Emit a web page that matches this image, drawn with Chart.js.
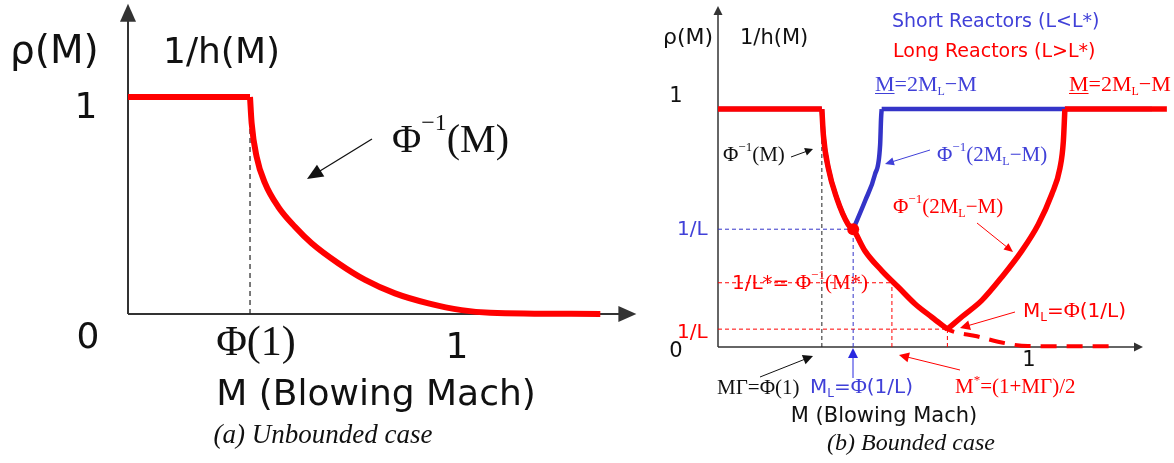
<!DOCTYPE html>
<html>
<head>
<meta charset="utf-8">
<script src="https://cdn.jsdelivr.net/npm/chart.js@4.4.0/dist/chart.umd.min.js"></script>
<style>
  body { margin: 0; background: #fff; }
  #wrap { position: relative; width: 1174px; height: 463px; overflow: hidden; }
  canvas { position: absolute; top: 0; }
</style>
</head>
<body>
<div id="wrap">
  <canvas id="unbounded" width="650" height="463" style="left:0"></canvas>
  <canvas id="bounded" width="524" height="463" style="left:650px"></canvas>
</div>
<script>
// (a) unbounded: rho = 1 up to Phi(1), then Phi^-1(M) decaying to 0
const unbM   = [0, 0.372, 0.377, 0.392, 0.418, 0.458, 0.509, 0.560, 0.641, 0.723, 0.814, 0.916, 1.017, 1.104, 1.44];
const unbRho = [1, 1, 0.879, 0.725, 0.602, 0.494, 0.402, 0.326, 0.234, 0.157, 0.095, 0.049, 0.018, 0.006, 0];
const phiOfOne = 0.372;

// (b) bounded: long reactors (red), short reactors (blue), unbounded tail (dashed)
const longM   = [0, 0.335, 0.340, 0.356, 0.383, 0.420, 0.436, 0.474, 0.528, 0.582, 0.635, 0.689, 0.74,
                 0.786, 0.851, 0.915, 0.980, 1.033, 1.076, 1.103, 1.114, 1.119, 1.448];
const longRho = [1, 1, 0.890, 0.751, 0.626, 0.515, 0.495, 0.404, 0.321, 0.251, 0.182, 0.126, 0.075,
                 0.126, 0.196, 0.293, 0.404, 0.515, 0.640, 0.751, 0.863, 1, 1];
const shortM   = [0, 0.335, 0.340, 0.356, 0.383, 0.420, 0.436, 0.474, 0.506, 0.523, 0.526, 0.528, 1.4];
const shortRho = [1, 1, 0.890, 0.751, 0.626, 0.515, 0.495, 0.6125, 0.724, 0.849, 0.96, 1, 1];
const tailM   = [0.436, 0.474, 0.528, 0.582, 0.635, 0.689, 0.74, 0.835, 0.93, 1.0, 1.265];
const tailRho = [0.495, 0.404, 0.321, 0.251, 0.182, 0.126, 0.075, 0.045, 0.015, 0.004, 0.003];

const mGamma = 0.335;                      // MΓ = Φ(1)
const mLshort = 0.436, invLshort = 0.495;  // short reactor 1/L
const mStar = 0.561, invLstar = 0.27;      // 1/L* = Φ^-1(M*)
const mLlong = 0.74, invLlong = 0.075;     // long reactor 1/L

const RED = '#ff0000';
const BLUE = '#3434c8';
const BLUE_TXT = '#4040d8';
const AXIS = '#333';
const SANS = '"DejaVu Sans", Verdana, sans-serif';
const SERIF = '"Liberation Serif", "Times New Roman", serif';

function pts(xs, ys, from, to) {
  const out = [];
  for (let i = from || 0; i <= (to === undefined ? xs.length - 1 : to); i++) out.push({ x: xs[i], y: ys[i] });
  return out;
}
function seg(x1, y1, x2, y2) { return [{ x: x1, y: y1 }, { x: x2, y: y2 }]; }

function run(t, size, fam, extra) { return Object.assign({ t, size, fam }, extra || {}); }
function runFont(r) { return (r.italic ? 'italic ' : '') + r.size + 'px ' + r.fam; }

function drawRuns(ctx, x, y, runs, color, align) {
  ctx.save();
  ctx.textAlign = 'left';
  ctx.textBaseline = 'alphabetic';
  ctx.fillStyle = color;
  ctx.strokeStyle = color;
  let total = 0;
  for (const r of runs) { ctx.font = runFont(r); r.w = ctx.measureText(r.t).width; total += r.w; }
  let cx = align === 'center' ? x - total / 2 : x;
  for (const r of runs) {
    ctx.font = runFont(r);
    const by = y + (r.dy || 0);
    ctx.fillText(r.t, cx, by);
    if (r.under) {
      ctx.lineWidth = 1;
      ctx.beginPath(); ctx.moveTo(cx, by + 2.5); ctx.lineTo(cx + r.w, by + 2.5); ctx.stroke();
    }
    cx += r.w;
  }
  ctx.restore();
}

function arrow(ctx, x1, y1, x2, y2, color, lw, len, half) {
  const a = Math.atan2(y2 - y1, x2 - x1);
  ctx.save();
  ctx.strokeStyle = color; ctx.fillStyle = color; ctx.lineWidth = lw;
  ctx.beginPath();
  ctx.moveTo(x1, y1);
  ctx.lineTo(x2 - Math.cos(a) * len * 0.8, y2 - Math.sin(a) * len * 0.8);
  ctx.stroke();
  ctx.beginPath();
  ctx.moveTo(x2, y2);
  ctx.lineTo(x2 - Math.cos(a) * len - Math.sin(a) * half, y2 - Math.sin(a) * len + Math.cos(a) * half);
  ctx.lineTo(x2 - Math.cos(a) * len + Math.sin(a) * half, y2 - Math.sin(a) * len - Math.cos(a) * half);
  ctx.closePath();
  ctx.fill();
  ctx.restore();
}

function drawAxes(chart, lw, len, half) {
  const { ctx, scales: { x, y } } = chart;
  const ox = x.getPixelForValue(0), oy = y.getPixelForValue(0);
  arrow(ctx, ox, oy, x.getPixelForValue(x.max), oy, AXIS, lw, len, half);
  arrow(ctx, ox, oy, ox, y.getPixelForValue(y.max), AXIS, lw, len, half);
}

function lineSet(data, color, width, dash, order, smooth) {
  return {
    data, showLine: true, borderColor: color, backgroundColor: color,
    borderWidth: width, borderDash: dash || [], pointRadius: 0,
    tension: 0, cubicInterpolationMode: smooth ? 'monotone' : 'default',
    clip: false, order: order, borderJoinStyle: 'round', borderCapStyle: 'butt'
  };
}

function baseOptions(pad, xMax, yMax) {
  return {
    responsive: false,
    animation: false,
    devicePixelRatio: 1,
    layout: { padding: pad },
    plugins: { legend: { display: false }, tooltip: { enabled: false } },
    scales: {
      x: { type: 'linear', min: 0, max: xMax, display: false },
      y: { type: 'linear', min: 0, max: yMax, display: false }
    }
  };
}

// ---------- (a) Unbounded case ----------
const unbDecor = {
  id: 'unbDecor',
  beforeDatasetsDraw(chart) { drawAxes(chart, 2, 18, 8); },
  afterDraw(chart) {
    const ctx = chart.ctx;
    drawRuns(ctx, 10, 63, [run('ρ(M)', 39, SANS)], '#111');
    drawRuns(ctx, 163, 63, [run('1/h(M)', 36, SANS)], '#111');
    drawRuns(ctx, 86, 118, [run('1', 36, SANS)], '#111', 'center');
    drawRuns(ctx, 88, 348, [run('0', 36, SANS)], '#111', 'center');
    drawRuns(ctx, 256, 355, [run('Φ(1)', 42, SERIF)], '#111', 'center');
    drawRuns(ctx, 457, 358, [run('1', 36, SANS)], '#111', 'center');
    drawRuns(ctx, 376, 405, [run('M (Blowing Mach)', 36, SANS)], '#111', 'center');
    drawRuns(ctx, 323, 443, [run('(a) Unbounded case', 27, SERIF, { italic: true })], '#111', 'center');
    drawRuns(ctx, 392, 152, [run('Φ', 40, SERIF), run('−1', 24, SERIF, { dy: -22 }), run('(M)', 40, SERIF)], '#111');
    arrow(ctx, 372, 139, 307, 179, '#111', 1.3, 16, 7);
  }
};

new Chart(document.getElementById('unbounded'), {
  type: 'scatter',
  data: {
    datasets: [
      lineSet(pts(unbM, unbRho, 0, 1), RED, 6, null, 0),
      lineSet(pts(unbM, unbRho, 1), RED, 6, null, 0, true),
      lineSet(seg(phiOfOne, 0, phiOfOne, 1), '#222', 1.2, [5, 4], 2)
    ]
  },
  options: baseOptions({ left: 128, right: 650 - 128 - 1.55 * 328, top: 314 - 1.43 * 217, bottom: 463 - 314 }, 1.55, 1.43),
  plugins: [unbDecor]
});

// ---------- (b) Bounded case ----------
const OX = 650;
const bndDecor = {
  id: 'bndDecor',
  beforeDatasetsDraw(chart) { drawAxes(chart, 1.5, 9, 4.5); },
  afterDraw(chart) {
    const ctx = chart.ctx;
    ctx.save();
    ctx.translate(-OX, 0);
    drawRuns(ctx, 663, 44, [run('ρ(M)', 22, SANS)], '#111');
    drawRuns(ctx, 740, 44, [run('1/h(M)', 21, SANS)], '#111');
    drawRuns(ctx, 892, 27, [run('Short Reactors (L<L*)', 19, SANS)], BLUE_TXT);
    drawRuns(ctx, 893, 57, [run('Long Reactors (L>L*)', 19, SANS)], RED);
    const mEq = () => [run('M', 22, SERIF, { under: true }), run('=2M', 22, SERIF), run('L', 12, SERIF, { dy: 4 }), run('−M', 22, SERIF)];
    drawRuns(ctx, 875, 91, mEq(), BLUE_TXT);
    drawRuns(ctx, 1069, 91, mEq(), RED);
    drawRuns(ctx, 676, 102, [run('1', 21, SANS)], '#111', 'center');
    drawRuns(ctx, 676, 357, [run('0', 21, SANS)], '#111', 'center');
    drawRuns(ctx, 1029, 366, [run('1', 21, SANS)], '#111', 'center');

    drawRuns(ctx, 723, 161, [run('Φ', 21, SERIF), run('−1', 13, SERIF, { dy: -10 }), run('(M)', 21, SERIF)], '#111');
    arrow(ctx, 791, 157, 813, 149, '#111', 1, 8, 4);

    const invTwo = () => [run('Φ', 21, SERIF), run('−1', 13, SERIF, { dy: -10 }), run('(2M', 21, SERIF), run('L', 12, SERIF, { dy: 4 }), run('−M)', 21, SERIF)];
    drawRuns(ctx, 937, 161, invTwo(), BLUE_TXT);
    arrow(ctx, 930, 150, 885, 164, BLUE_TXT, 1, 9, 4);
    drawRuns(ctx, 893, 213, invTwo(), RED);
    arrow(ctx, 977, 223, 1013, 252, RED, 1, 9, 4);

    drawRuns(ctx, 677, 235, [run('1/L', 20, SANS)], BLUE_TXT);
    drawRuns(ctx, 677, 338, [run('1/L', 20, SANS)], RED);
    drawRuns(ctx, 732, 289, [run('1/L*= ', 20, SANS), run('Φ', 21, SERIF), run('−1', 13, SERIF, { dy: -10 }), run('(M*)', 21, SERIF)], RED);

    drawRuns(ctx, 1023, 317, [run('M', 20, SANS), run('L', 12, SANS, { dy: 4 }), run('=', 20, SANS), run('Φ', 22, SERIF), run('(1/L)', 20, SANS)], RED);
    arrow(ctx, 1015, 312, 960, 328, RED, 1, 10, 5);

    arrow(ctx, 760, 377, 813, 356, '#111', 1, 10, 5);
    drawRuns(ctx, 717, 394, [run('MΓ=Φ(1)', 21, SERIF)], '#111');
    arrow(ctx, 853, 378, 853, 348, '#2828e0', 1, 10, 5);
    drawRuns(ctx, 810, 393, [run('M', 20, SANS), run('L', 12, SANS, { dy: 4 }), run('=', 20, SANS), run('Φ', 22, SERIF), run('(1/L)', 20, SANS)], BLUE_TXT);
    arrow(ctx, 960, 370, 899, 355, RED, 1, 10, 5);
    drawRuns(ctx, 955, 393, [run('M', 21, SERIF), run('*', 13, SERIF, { dy: -9 }), run('=(1+MΓ)/2', 21, SERIF)], RED);

    drawRuns(ctx, 884, 422, [run('M (Blowing Mach)', 21, SANS)], '#111', 'center');
    drawRuns(ctx, 911, 450, [run('(b) Bounded case', 24, SERIF, { italic: true })], '#111', 'center');
    ctx.restore();
  }
};

const dot = {
  data: [{ x: mLshort, y: invLshort }], showLine: false, pointRadius: 6,
  pointBackgroundColor: RED, pointBorderWidth: 0, clip: false, order: 0
};

// corners split the curves so the flat parts stay straight and the V stays sharp
new Chart(document.getElementById('bounded'), {
  type: 'scatter',
  data: {
    datasets: [
      lineSet(pts(longM, longRho, 0, 1), RED, 5.5, null, 0),
      lineSet(pts(longM, longRho, 1, 12), RED, 5.5, null, 0, true),
      lineSet(pts(longM, longRho, 12, 21), RED, 5.5, null, 0, true),
      lineSet(pts(longM, longRho, 21, 22), RED, 5.5, null, 0),
      lineSet(pts(tailM, tailRho), RED, 4, [16, 10], 0, true),
      dot,
      lineSet(pts(shortM, shortRho, 0, 1), BLUE, 4.5, null, 1),
      lineSet(pts(shortM, shortRho, 1, 6), BLUE, 4.5, null, 1, true),
      lineSet(pts(shortM, shortRho, 6, 11), BLUE, 4.5, null, 1, true),
      lineSet(pts(shortM, shortRho, 11, 12), BLUE, 4.5, null, 1),
      lineSet(seg(mGamma, 0, mGamma, 1), '#222', 1, [4, 3], 2),
      lineSet(seg(0, invLshort, mLshort, invLshort), BLUE, 1, [4, 3], 2),
      lineSet(seg(mLshort, 0, mLshort, invLshort), BLUE, 1, [4, 3], 2),
      lineSet(seg(0, invLstar, mStar, invLstar), RED, 1, [4, 3], 2),
      lineSet(seg(mStar, 0, mStar, invLstar), RED, 1, [4, 3], 2),
      lineSet(seg(0, invLlong, mLlong, invLlong), RED, 1, [4, 3], 2),
      lineSet(seg(mLlong, 0, mLlong, invLlong), RED, 1, [4, 3], 2)
    ]
  },
  options: baseOptions({ left: 68, right: 524 - 68 - 1.371 * 310, top: 347 - 1.433 * 240, bottom: 463 - 347 }, 1.371, 1.433),
  plugins: [bndDecor]
});
</script>
</body>
</html>
